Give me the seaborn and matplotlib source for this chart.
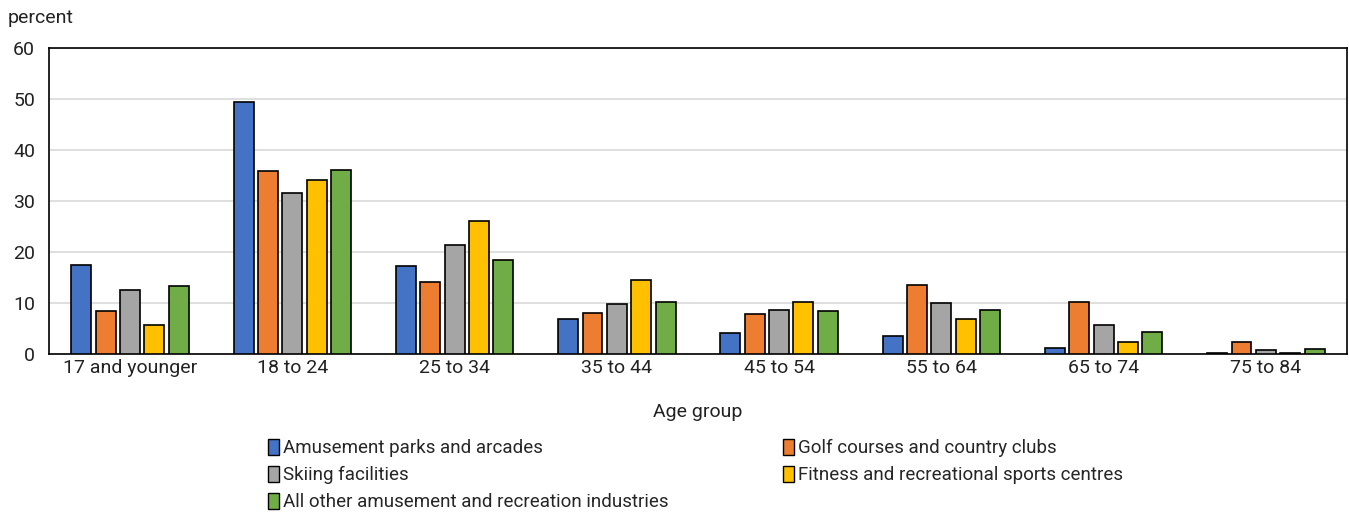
import pandas as pd
import matplotlib.pyplot as plt
import matplotlib.patches as mpatches
import seaborn as sns

# Chart values
age_groups = ["17 and younger", "18 to 24", "25 to 34", "35 to 44",
              "45 to 54", "55 to 64", "65 to 74", "75 to 84"]
industries = ["Amusement parks and arcades", "Golf courses and country clubs",
              "Skiing facilities", "Fitness and recreational sports centres",
              "All other amusement and recreation industries"]
amusement = [17.5, 49.5, 17.3, 6.8, 4.2, 3.6, 1.3, 0.2]
golf = [8.5, 35.9, 14.1, 8.0, 7.8, 13.6, 10.3, 2.4]
skiing = [12.5, 31.6, 21.3, 9.8, 8.6, 10.0, 5.8, 0.9]
fitness = [5.8, 34.2, 26.1, 14.5, 10.3, 6.9, 2.4, 0.3]
other = [13.3, 36.1, 18.4, 10.2, 8.4, 8.6, 4.4, 1.0]
colors = ["#4472C4", "#ED7D31", "#A5A5A5", "#FFC000", "#70AD47"]

rows = []
for name, vals in zip(industries, [amusement, golf, skiing, fitness, other]):
    for age, v in zip(age_groups, vals):
        rows.append({"age": age, "industry": name, "percent": v})
df = pd.DataFrame(rows)

sns.set_style("white")
plt.rcParams["font.family"] = ["Roboto", "DejaVu Sans"]

fig = plt.figure(figsize=(13.49, 5.14), dpi=100)
ax = fig.add_axes([0.0363, 0.311, 0.9622, 0.5956])

sns.barplot(data=df, x="age", y="percent", hue="industry", hue_order=industries,
            palette=colors, width=0.75, gap=0.18, edgecolor="black",
            linewidth=1.2, saturation=1, ax=ax, zorder=3)
ax.get_legend().remove()

ax.set_ylim(0, 60)
ax.set_xlim(-0.5, 7.5)
ax.set_yticks(range(0, 61, 10))
ax.yaxis.grid(True, color="#d9d9d9", linewidth=1.2, zorder=0)
ax.set_axisbelow(True)
for s in ax.spines.values():
    s.set_visible(True)
    s.set_color("black")
    s.set_linewidth(1.2)
ax.tick_params(axis="both", length=0, labelsize=14, colors="#222222")
ax.tick_params(axis="y", pad=10)
ax.set_xlabel("Age group", fontsize=14, labelpad=19, color="#222222")
ax.set_ylabel("")
fig.text(0.006, 0.955, "percent", fontsize=14, color="#222222")

handles = [mpatches.Patch(facecolor=c, edgecolor="black", linewidth=1) for c in colors]
order = [0, 2, 4, 1, 3]
fig.legend([handles[i] for i in order], [industries[i] for i in order],
           loc="upper left", bbox_to_anchor=(0.1985, 0.146), ncol=2, frameon=False,
           fontsize=13.5, handlelength=0.6, handleheight=0.9, handletextpad=0.2,
           columnspacing=6.1, labelspacing=0.47, borderpad=0, borderaxespad=0)

fig.savefig("out.png", dpi=100)
